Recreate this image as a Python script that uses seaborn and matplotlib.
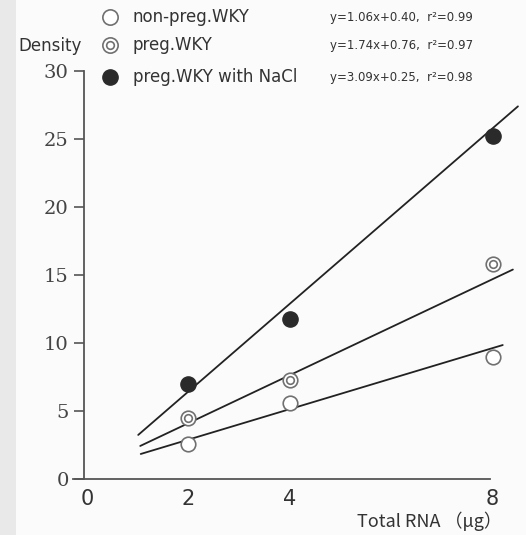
import matplotlib
matplotlib.use("Agg")
import matplotlib.pyplot as plt
from matplotlib.lines import Line2D
from matplotlib.patches import Rectangle
import seaborn as sns
import pandas as pd

sns.set_theme(style="white")
plt.rcParams['font.family'] = ['DejaVu Sans']

# ---- data ----
rna_ug = [2, 4, 8]
nonpreg_density = [2.6, 5.6, 9.0]
preg_density = [4.5, 7.3, 15.8]
nacl_density = [7.0, 11.8, 25.2]

# drawn regression lines (start / end)
nonpreg_line_x = [1.06, 8.2]
nonpreg_line_y = [1.84, 9.85]
preg_line_x = [1.05, 8.4]
preg_line_y = [2.43, 15.4]
nacl_line_x = [1.01, 8.5]
nacl_line_y = [3.24, 27.4]

series_names = ["non-preg.WKY", "preg.WKY", "preg.WKY with NaCl"]
equations = ["y=1.06x+0.40,  r\u00b2=0.99",
             "y=1.74x+0.76,  r\u00b2=0.97",
             "y=3.09x+0.25,  r\u00b2=0.98"]
x_ticks = [0, 2, 4, 8]
y_ticks = [0, 5, 10, 15, 20, 25, 30]

W, H = 526, 535
fig = plt.figure(figsize=(W / 100, H / 100), dpi=100)
fig.patch.set_facecolor("#fbfbfb")
fig.add_artist(Rectangle((0, 0), 16 / W, 1, transform=fig.transFigure,
                         facecolor="#e9e9e9", edgecolor="none", zorder=0))

# x scale: ~50.7 px per unit, 0 at px 87
x_lo, x_hi = -0.35, 8.6
px_per_x = 50.7
left_px = 87 + x_lo * px_per_x
width_px = (x_hi - x_lo) * px_per_x
ax = fig.add_axes([left_px / W, (H - 479) / H, width_px / W, 31 * 13.6 / H])
ax.set_facecolor("none")

line_col = "#222222"
for lx, ly in [(nonpreg_line_x, nonpreg_line_y),
               (preg_line_x, preg_line_y),
               (nacl_line_x, nacl_line_y)]:
    sns.lineplot(x=lx, y=ly, ax=ax, color=line_col, linewidth=1.3,
                 estimator=None, sort=False, zorder=2)

edge = "#707070"
df_np = pd.DataFrame({"x": rna_ug, "y": nonpreg_density})
df_p = pd.DataFrame({"x": rna_ug, "y": preg_density})
df_n = pd.DataFrame({"x": rna_ug, "y": nacl_density})

sns.scatterplot(data=df_np, x="x", y="y", ax=ax, s=110, marker="o",
                facecolor="white", edgecolor=edge, linewidth=1.2, zorder=3)
sns.scatterplot(data=df_p, x="x", y="y", ax=ax, s=110, marker="o",
                facecolor="white", edgecolor=edge, linewidth=1.2, zorder=3)
sns.scatterplot(data=df_p, x="x", y="y", ax=ax, s=30, marker="o",
                facecolor="white", edgecolor=edge, linewidth=1.2, zorder=4)
sns.scatterplot(data=df_n, x="x", y="y", ax=ax, s=120, marker="o",
                facecolor="#2a2a2a", edgecolor="#2a2a2a", linewidth=1, zorder=3)

ax.set_xlim(x_lo, x_hi)
ax.set_ylim(0, 31)
ax.set_xlabel("")
ax.set_ylabel("")

for s in ["top", "right"]:
    ax.spines[s].set_visible(False)
ax.spines["left"].set_position(("data", -0.06))
ax.spines["left"].set_bounds(0, 30)
ax.spines["bottom"].set_bounds(-0.28, 7.95)
for s in ["left", "bottom"]:
    ax.spines[s].set_color("#555555")
    ax.spines[s].set_linewidth(1.3)

ax.set_xticks(x_ticks)
ax.set_xticklabels([str(v) for v in x_ticks], fontsize=15, color="#333333")
ax.tick_params(axis="x", length=0, pad=7)
ax.set_yticks(y_ticks)
ax.set_yticklabels([str(v) for v in y_ticks], fontsize=14, color="#444444",
                   family="DejaVu Serif")
ax.tick_params(axis="y", direction="out", length=7, width=1.2,
               color="#555555", pad=4, left=True)

# legend (manual, figure coordinates)
rows_y = [17, 45, 77]
for i, (name, eq) in enumerate(zip(series_names, equations)):
    yf = 1 - rows_y[i] / H
    xf = 110 / W
    if i == 0:
        fig.add_artist(Line2D([xf], [yf], transform=fig.transFigure, marker="o",
                              markersize=11, markerfacecolor="white",
                              markeredgecolor=edge, markeredgewidth=1.2))
    elif i == 1:
        fig.add_artist(Line2D([xf], [yf], transform=fig.transFigure, marker="o",
                              markersize=11, markerfacecolor="white",
                              markeredgecolor=edge, markeredgewidth=1.2))
        fig.add_artist(Line2D([xf], [yf], transform=fig.transFigure, marker="o",
                              markersize=5.5, markerfacecolor="white",
                              markeredgecolor=edge, markeredgewidth=1.2))
    else:
        fig.add_artist(Line2D([xf], [yf], transform=fig.transFigure, marker="o",
                              markersize=11, markerfacecolor="#2a2a2a",
                              markeredgecolor="#2a2a2a"))
    fig.text(133 / W, yf, name, fontsize=12, color="#333333", va="center", ha="left")
    fig.text(330 / W, yf, eq, fontsize=8.5, color="#333333", va="center", ha="left")

fig.text(50 / W, 1 - 46 / H, "Density", fontsize=12, color="#333333",
         ha="center", va="center")
fig.text(502 / W, 1 - 521 / H, "Total RNA （\u03bcg）", fontsize=13, color="#333333",
         ha="right", va="center", family=["Noto Sans CJK JP", "DejaVu Sans"])

fig.savefig("out.png", dpi=100, facecolor=fig.get_facecolor())
